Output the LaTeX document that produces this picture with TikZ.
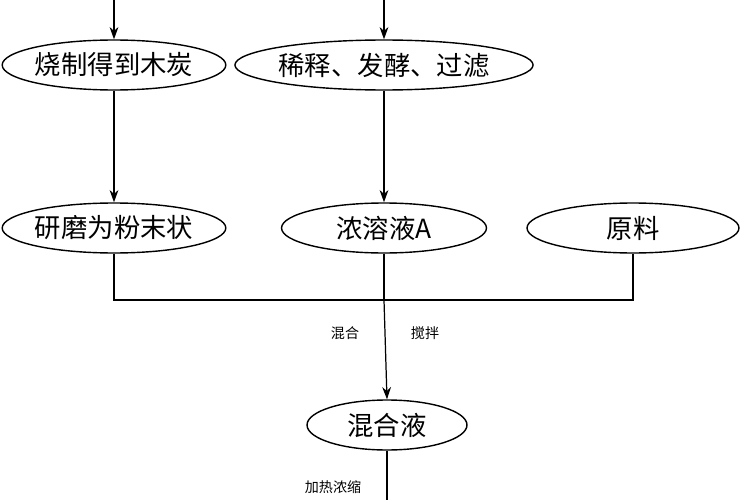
\documentclass[tikz,border=0pt]{standalone}
\usepackage{fontspec}
\newfontfamily\cjk{Noto Sans CJK SC}
\usetikzlibrary{shapes.geometric,arrows.meta}
\begin{document}
\begin{tikzpicture}[x=0.02cm,y=-0.02cm,
  el/.style={ellipse,draw,line width=0.8pt,inner sep=0pt,font=\cjk\fontsize{15}{15}\selectfont},
  arr/.style={-{Stealth[length=7pt,width=5pt]},line width=0.7pt},
  ln/.style={line width=0.7pt},
  lbl/.style={font=\cjk\fontsize{8}{8}\selectfont}]
\useasboundingbox (0,0) rectangle (750,500);
\node[el,minimum width=208\pgflinewidth*0+4.16cm,minimum height=1cm] (a) at (114,65) {烧制得到木炭};
\node[el,minimum width=5.16cm,minimum height=1cm] (b) at (384,65) {稀释、发酵、过滤};
\node[el,minimum width=4.16cm,minimum height=1cm] (c) at (114,228) {研磨为粉末状};
\node[el,minimum width=4.1cm,minimum height=1cm] (d) at (384,228) {浓溶液A};
\node[el,minimum width=4.24cm,minimum height=1cm] (e) at (633,228) {原料};
\node[el,minimum width=3.2cm,minimum height=1cm] (f) at (387,425) {混合液};
\coordinate (ta) at (114,0);
\coordinate (tb) at (384,0);
\coordinate (j) at (384,300);
\coordinate (jl) at (114,300);
\coordinate (jr) at (633,300);
\coordinate (bot) at (387,500);
\draw[arr] (ta) -- (a);
\draw[arr] (tb) -- (b);
\draw[arr] (a) -- (c);
\draw[arr] (b) -- (d);
\draw[ln] (c) -- (jl) -- (jr) -- (e);
\draw[ln] (d) -- (j);
\draw[arr] (j) -- (f.north);
\draw[ln] (f) -- (bot);
\node[lbl] (l1) at (345,333) {混合};
\node[lbl] (l2) at (425,333) {搅拌};
\node[lbl] (l3) at (333,487) {加热浓缩};
\end{tikzpicture}
\end{document}
